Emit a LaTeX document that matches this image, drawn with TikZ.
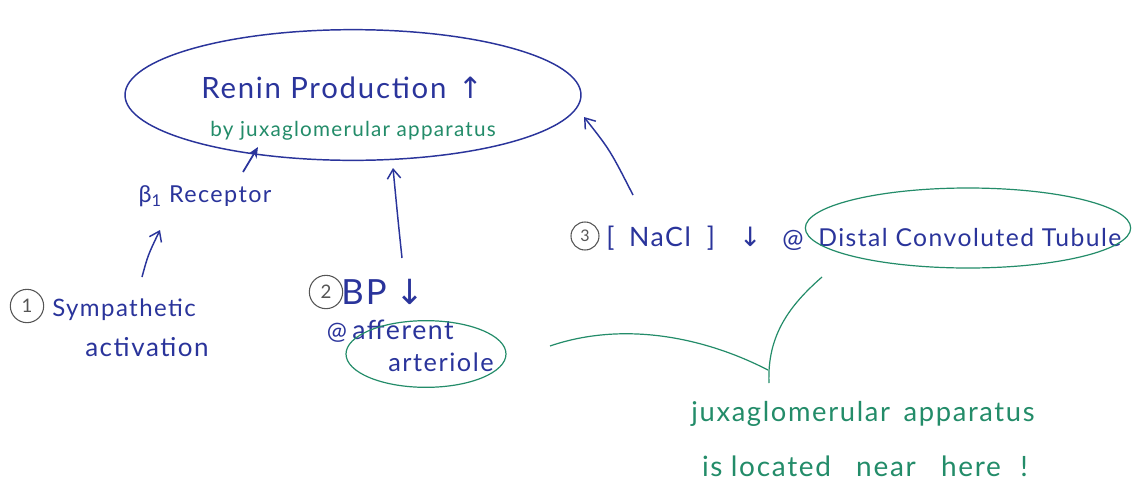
\documentclass[tikz,border=0pt]{standalone}
\usepackage{fontspec}
\setmainfont[LetterSpace=6]{Lato}
\newfontfamily\symfont{DejaVu Sans}
\usetikzlibrary{arrows.meta,shapes.geometric}
\definecolor{inkblue}{RGB}{42,52,155}
\definecolor{inkgreen}{RGB}{35,140,105}
\definecolor{inkgray}{RGB}{85,85,85}

\begin{document}
\begin{tikzpicture}[x=0.75pt,y=-0.75pt,
  bluetxt/.style={text=inkblue, inner sep=0pt},
  greentxt/.style={text=inkgreen, inner sep=0pt},
  numcirc/.style={circle, draw=inkgray, text=inkgray, line width=0.8pt,
    minimum size=25pt, inner sep=0pt, font=\fontsize{14}{16}\selectfont},
  bluering/.style={ellipse, draw=inkblue, line width=1.1pt},
  greenring/.style={ellipse, draw=inkgreen, line width=0.9pt},
  greenline/.style={draw=inkgreen, line width=0.9pt},
  barb/.style={draw=inkblue, line width=1.1pt, -{Straight Barb[length=7pt,width=10pt]}},
  solidtip/.style={draw=inkblue, line width=1.3pt, -{Stealth[length=8pt,width=7pt]}}]
\useasboundingbox (0,0) rectangle (1140,483);
\fill[white] (0,0) rectangle (1140,483);

% central result
\node[bluering, minimum width=342pt, minimum height=98pt] (renin) at (353,95) {};
\node[bluetxt, font=\fontsize{22}{26}\selectfont] (title) at (342,88)
  {Renin Production\hspace{0.4em}{\symfont ↑}};
\node[greentxt, font=\fontsize{15.5}{18}\selectfont] (byjga) at (353,131)
  {by juxaglomerular apparatus};

% 1: sympathetic route
\node[bluetxt, font=\fontsize{17.5}{21}\selectfont] (beta) at (205,196)
  {β\textsubscript{1} Receptor};
\node[numcirc] (n1) at (27,306) {1};
\node[bluetxt, font=\fontsize{18}{21}\selectfont, anchor=west] (sym1) at (52,310) {Sympathetic};
\node[bluetxt, font=\fontsize{19.5}{23}\selectfont, anchor=west] (sym2) at (85,347) {activation};

% 2: blood pressure route
\node[numcirc] (n2) at (326,292) {2};
\node[bluetxt, font=\fontsize{26}{30}\selectfont, anchor=west] (bp) at (341,292)
  {BP\hspace{0.25em}{\symfont ↓}};
\node[bluetxt, font=\fontsize{18}{21}\selectfont] (at2) at (337,333) {@};
\node[bluetxt, font=\fontsize{20}{23}\selectfont, anchor=west] (aff1) at (352,330) {afferent};
\node[bluetxt, font=\fontsize{19}{22}\selectfont, anchor=west] (aff2) at (388,362) {arteriole};
\node[greenring, minimum width=120pt, minimum height=50pt] (affring) at (426,354) {};

% 3: sodium chloride route
\node[numcirc, minimum size=21pt, font=\fontsize{12}{14}\selectfont] (n3) at (585,236) {3};
\node[bluetxt, font=\fontsize{20}{24}\selectfont, anchor=west] (nacl) at (606,238)
  {[\hspace{0.55em}NaCl\hspace{0.6em}]\hspace{0.9em}{\symfont ↓}};
\node[bluetxt, font=\fontsize{19}{22}\selectfont] (at3) at (793,240) {@};
\node[bluetxt, font=\fontsize{18.5}{22}\selectfont, anchor=west] (dct) at (818,238)
  {Distal Convoluted Tubule};
\node[greenring, minimum width=244pt, minimum height=60pt] (dctring) at (968,228) {};

% note on the location of the juxtaglomerular apparatus
\node[greentxt, font=\fontsize{20.5}{24}\selectfont] (jga1) at (863,414)
  {juxaglomerular\hspace{0.5em}apparatus};
\node[greentxt, font=\fontsize{21}{25}\selectfont] (jga2) at (865,466)
  {is\hspace{0.3em}located\hspace{0.9em}near\hspace{0.9em}here\hspace{0.7em}!};

% arrow end points
\coordinate (a1s) at (243,172); \coordinate (a1e) at (258,147);
\coordinate (a2s) at (142,277); \coordinate (a2e) at (160,230);
\coordinate (a3s) at (402,258); \coordinate (a3e) at (393,168);
\coordinate (a4s) at (633,195); \coordinate (a4e) at (584,117);
\coordinate (meet) at (768,370);
\coordinate (gl) at (550,346);
\coordinate (gr) at (822,277);
\coordinate (gd) at (769,383);

\draw[solidtip] (a1s) -- (a1e);
\draw[barb] (a2s) .. controls (148,255) .. (a2e);
\draw[barb] (a3s) .. controls (398,220) .. (a3e);
\draw[barb] (a4s) .. controls (610,150) .. (a4e);

\draw[greenline] (gl) .. controls (620,322) and (700,335) .. (meet);
\draw[greenline] (gd) .. controls (767,335) and (790,305) .. (gr);
\end{tikzpicture}
\end{document}
